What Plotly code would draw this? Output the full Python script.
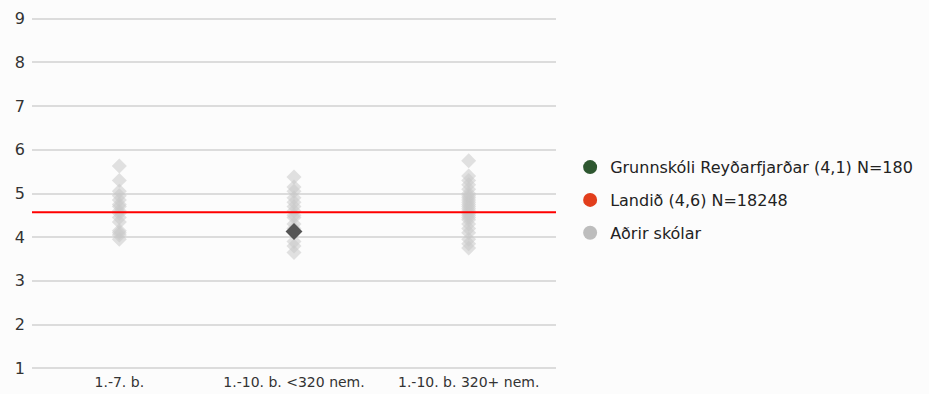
"""Dreifing skóla eftir skólagerð — stig skóla borið saman við landið."""
import plotly.graph_objects as go

CATEGORIES = ["1.-7. b.", "1.-10. b. <320 nem.", "1.-10. b. 320+ nem."]

OTHER_SCHOOLS = {
    "1.-7. b.": [5.63, 5.3, 5.05, 4.95, 4.85, 4.75, 4.7, 4.6, 4.55, 4.45,
                 4.35, 4.15, 4.1, 4.05, 3.95],
    "1.-10. b. <320 nem.": [5.38, 5.15, 5.05, 4.9, 4.8, 4.7, 4.6, 4.5, 4.45,
                            4.3, 4.2, 3.9, 3.8, 3.65],
    "1.-10. b. 320+ nem.": [5.75, 5.4, 5.3, 5.2, 5.1, 5.0, 4.95, 4.9, 4.85,
                            4.8, 4.75, 4.7, 4.65, 4.6, 4.55, 4.5, 4.45, 4.4,
                            4.3, 4.2, 4.1, 3.95, 3.85, 3.75],
}

SCHOOL_NAME = "Grunnskóli Reyðarfjarðar (4,1) N=180"
SCHOOL_CATEGORY = "1.-10. b. <320 nem."
SCHOOL_VALUE = 4.13

NATIONAL_NAME = "Landið (4,6) N=18248"
NATIONAL_VALUE = 4.57

OTHERS_NAME = "Aðrir skólar"

Y_TICKS = [1, 2, 3, 4, 5, 6, 7, 8, 9]

FONT = "DejaVu Sans, sans-serif"
BG = "#fcfcfc"

fig = go.Figure()

# gray diamonds, one trace per category
for cat in CATEGORIES:
    vals = OTHER_SCHOOLS[cat]
    fig.add_trace(go.Scatter(
        x=[cat] * len(vals), y=vals,
        mode="markers",
        marker=dict(symbol="diamond", size=11.5,
                    color="rgba(200,200,200,0.55)", line=dict(width=0)),
        showlegend=False, hoverinfo="y",
    ))

fig.add_trace(go.Scatter(
    x=[SCHOOL_CATEGORY], y=[SCHOOL_VALUE],
    mode="markers",
    marker=dict(symbol="diamond", size=13, color="#555555", line=dict(width=0)),
    showlegend=False, hoverinfo="y",
))

fig.add_hline(y=NATIONAL_VALUE, line_color="#ff0000", line_width=2)

# legend-only entries (legend colors differ from marks in the original)
for i, (name, color) in enumerate([
    (SCHOOL_NAME, "#2e5730"),
    (NATIONAL_NAME, "#e23e1c"),
    (OTHERS_NAME, "#bdbdbd"),
]):
    fig.add_trace(go.Scatter(
        x=[None], y=[None], mode="markers", name=name,
        legendgroup=f"g{i}",
        marker=dict(symbol="circle", size=14, color=color),
    ))

fig.update_layout(
    width=929, height=394,
    margin=dict(l=32, r=372, t=17, b=24),
    paper_bgcolor=BG, plot_bgcolor=BG,
    font=dict(family=FONT, size=15, color="#333333"),
    showlegend=True,
    legend=dict(
        x=1.025, xanchor="left", y=0.481, yanchor="middle",
        font=dict(size=16, color="#222222"),
        tracegroupgap=9, bgcolor="rgba(0,0,0,0)",
    ),
    xaxis=dict(
        type="category", categoryorder="array", categoryarray=CATEGORIES,
        range=[-0.5, len(CATEGORIES) - 0.5], automargin=False,
        showgrid=False, zeroline=False, showline=False,
        ticks="", tickfont=dict(size=14, color="#333333"), ticklabelstandoff=2,
    ),
    yaxis=dict(
        range=[0.96, 9.04], tickvals=Y_TICKS, showgrid=True, automargin=False,
        gridcolor="#dcdcdc", gridwidth=1.5, zeroline=False, showline=False,
        ticks="", tickfont=dict(size=16, color="#333333"), ticklabelstandoff=6,
    ),
)

fig.write_html("out.html", config={"displayModeBar": False},
               post_script="document.body.style.margin='0';")
